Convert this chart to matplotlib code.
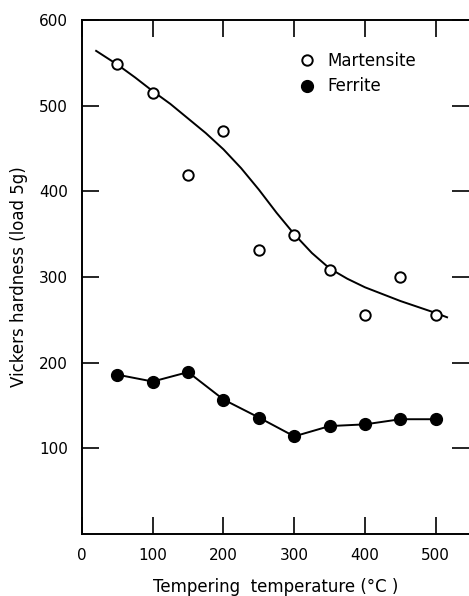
import numpy as np
from matplotlib import pyplot as plt

# tempering temperature (deg C)
temps = [50, 100, 150, 200, 250, 300, 350, 400, 450, 500]
martensite = [549, 515, 419, 471, 332, 349, 308, 256, 300, 256]
ferrite = [186, 178, 189, 157, 136, 114, 126, 128, 134, 134]

# hand-drawn trend line through the martensite points
curve_x = [20, 50, 75, 100, 125, 150, 175, 200, 225, 250, 275, 300,
           325, 350, 375, 400, 425, 450, 475, 500, 516]
curve_y = [564, 548, 533, 517, 502, 485, 468, 449, 427, 402, 375, 350,
           328, 310, 298, 288, 280, 272, 265, 258, 253]

plt.rcParams['font.family'] = 'DejaVu Sans'

fig = plt.figure(figsize=(4.69, 5.96), dpi=100)
ax = fig.add_axes([0.1748, 0.104, 0.8252, 0.8624])

ax.plot(curve_x, curve_y, color='black', lw=1.4, solid_joinstyle='round')
ax.plot(temps, ferrite, color='black', lw=1.4)
ax.plot(temps, martensite, 'o', ms=7.5, mfc='white', mec='black', mew=1.4,
        ls='none', label='Martensite')
ax.plot(temps, ferrite, 'o', ms=8.5, mfc='black', mec='black',
        ls='none', label='Ferrite')

ax.set_xlim(0, 547)
ax.set_ylim(0, 600)
ax.set_xticks([0, 100, 200, 300, 400, 500])
ax.set_yticks([100, 200, 300, 400, 500, 600])
ax.tick_params(direction='in', length=12, width=1.2, labelsize=11,
               top=True, right=True, pad=10)
ax.spines['right'].set_visible(False)
for s in ['left', 'bottom', 'top']:
    ax.spines[s].set_linewidth(1.4)

ax.set_xlabel('Tempering  temperature (°C )', fontsize=12, labelpad=11)
ax.set_ylabel('Vickers hardness (load 5g)', fontsize=12, labelpad=8)

ax.legend(loc='upper left', bbox_to_anchor=(0.52, 0.967), frameon=False,
          fontsize=12, handletextpad=0.75, labelspacing=0.45,
          handlelength=1.0)

fig.savefig('out.png', dpi=100)
